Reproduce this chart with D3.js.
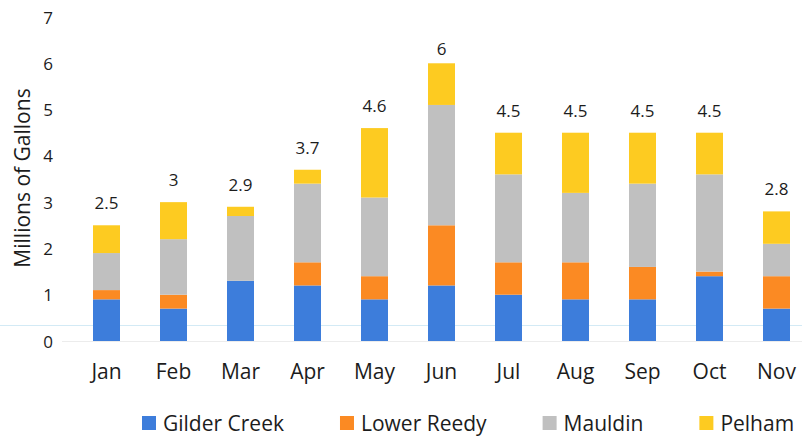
<!DOCTYPE html>
<html>
<head>
<meta charset="utf-8">
<script src="https://cdn.jsdelivr.net/npm/d3@7"></script>
<style>
  body { margin: 0; background: #fff; }
  svg text { font-family: "Open Sans", Lato, sans-serif; fill: #1c1c1c; }
</style>
</head>
<body>
<div id="chart"></div>
<script>
// monthly water use by plant, millions of gallons
var months = ["Jan", "Feb", "Mar", "Apr", "May", "Jun", "Jul", "Aug", "Sep", "Oct", "Nov"];
var gilderCreek = [0.9, 0.7, 1.3, 1.2, 0.9, 1.2, 1.0, 0.9, 0.9, 1.4, 0.7];
var lowerReedy  = [0.2, 0.3, 0.0, 0.5, 0.5, 1.3, 0.7, 0.8, 0.7, 0.1, 0.7];
var mauldin     = [0.8, 1.2, 1.4, 1.7, 1.7, 2.6, 1.9, 1.5, 1.8, 2.1, 0.7];
var pelham      = [0.6, 0.8, 0.2, 0.3, 1.5, 0.9, 0.9, 1.3, 1.1, 0.9, 0.7];
var seriesNames = ["Gilder Creek", "Lower Reedy", "Mauldin", "Pelham"];
var yTicks = [0, 1, 2, 3, 4, 5, 6, 7];

var W = 802, H = 437;
var colors = d3.scaleOrdinal()
    .domain(seriesNames)
    .range(["#3d7ddb", "#fb8a23", "#c0c0c0", "#fdcb21"]);

var rows = months.map(function(m, i) {
    return {month: m, "Gilder Creek": gilderCreek[i], "Lower Reedy": lowerReedy[i],
            "Mauldin": mauldin[i], "Pelham": pelham[i]};
});
rows.forEach(function(d) {
    d.total = seriesNames.reduce(function(s, k) { return s + d[k]; }, 0);
});

var stack = d3.stack().keys(seriesNames)(rows);

var svg = d3.select("#chart").append("svg")
    .attr("width", W)
    .attr("height", H);

// x: band scale, step 67px, Jan centred at ~106
var x = d3.scaleBand()
    .domain(months)
    .range([73, 73 + 67 * months.length])
    .paddingInner(0.597)
    .paddingOuter(0.2985);

var y = d3.scaleLinear().domain([0, 7]).range([341, 17]);

// faint base line and the pale blue line across the plot
svg.append("line")
    .attr("x1", 62).attr("x2", W)
    .attr("y1", y(0) + 0.5).attr("y2", y(0) + 0.5)
    .attr("stroke", "#ececec");
svg.append("line")
    .attr("x1", 0).attr("x2", W)
    .attr("y1", 325.5).attr("y2", 325.5)
    .attr("stroke", "#d3eaf5");

var yAxis = d3.axisLeft(y).tickValues(yTicks).tickFormat(d3.format("d")).tickSize(0).tickPadding(0);
var gy = svg.append("g")
    .attr("transform", "translate(53,0)")
    .call(yAxis);
gy.select(".domain").remove();
gy.selectAll("text")
    .style("font-size", "17px")
    .attr("dy", "0.36em");

svg.append("text")
    .attr("transform", "translate(30,178) rotate(-90)")
    .style("text-anchor", "middle")
    .style("font-size", "21px")
    .text("Millions of Gallons");

var xAxis = d3.axisBottom(x).tickSize(0).tickPadding(0);
var gx = svg.append("g")
    .attr("transform", "translate(0,364)")
    .call(xAxis);
gx.select(".domain").remove();
gx.selectAll("text")
    .style("font-size", "21px")
    .attr("dy", "0.71em");

svg.append("g").selectAll("g")
    .data(stack)
    .enter().append("g")
    .attr("fill", function(d) { return colors(d.key); })
    .selectAll("rect")
    .data(function(d) { return d; })
    .enter().append("rect")
    .attr("x", function(d) { return x(d.data.month); })
    .attr("width", x.bandwidth())
    .attr("y", function(d) { return y(d[1]); })
    .attr("height", function(d) { return y(d[0]) - y(d[1]); });

svg.append("g").selectAll("text")
    .data(rows)
    .enter().append("text")
    .attr("x", function(d) { return x(d.month) + x.bandwidth() / 2; })
    .attr("y", function(d) { return Math.max(y(d.total) - 16, 55); })
    .style("text-anchor", "middle")
    .style("font-size", "17px")
    .text(function(d) { return d3.format(".2~f")(d.total); });

// legend
var legend = svg.append("g").attr("transform", "translate(142,423)");
var lx = 0;
seriesNames.forEach(function(name) {
    var item = legend.append("g").attr("transform", "translate(" + lx + ",0)");
    item.append("rect")
        .attr("x", 0).attr("y", -7)
        .attr("width", 14).attr("height", 14)
        .attr("fill", colors(name));
    var t = item.append("text")
        .attr("x", 21).attr("dy", "0.36em")
        .style("font-size", "21px")
        .text(name);
    lx += 21 + t.node().getComputedTextLength() + 56;
});
</script>
</body>
</html>
